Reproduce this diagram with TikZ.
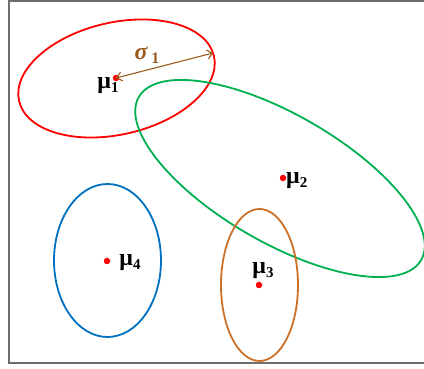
\documentclass[tikz,border=0pt]{standalone}
\usepackage{fontspec}
\newfontfamily\labfont{Liberation Serif}
\usetikzlibrary{arrows.meta}
\definecolor{cred}{RGB}{255,0,0}
\definecolor{cgreen}{RGB}{0,176,80}
\definecolor{cblue}{RGB}{0,112,192}
\definecolor{corange}{RGB}{204,112,40}
\definecolor{cbrown}{RGB}{156,90,30}
\definecolor{cframe}{RGB}{110,110,110}
\newcommand{\mulab}[1]{\bfseries μ\raisebox{-0.3ex}{\fontsize{15}{15}\selectfont #1}}
\tikzset{
  ell/.style={line width=1.8pt},
  dotm/.style={circle,fill=cred,inner sep=0pt,minimum size=6.5pt},
  lab/.style={font=\labfont\fontsize{24}{26}\selectfont,inner sep=0pt},
}
\begin{document}
\begin{tikzpicture}[x=1pt,y=1pt]
\useasboundingbox (0,0) rectangle (424,369);
% frame
\draw[cframe,line width=1.8pt] (430,368) -- (9,368) -- (9,6) -- (430,6);
% ellipses
\draw[ell,cred,rotate around={13:(116.5,290.5)}] (116.5,290.5) ellipse [x radius=100, y radius=56];
\draw[ell,cgreen,rotate around={-30:(280,190.5)}] (280,190.5) ellipse [x radius=163, y radius=64];
\draw[ell,cblue] (107.5,108.5) ellipse [x radius=53.5, y radius=76.5];
\draw[ell,corange] (259.5,84) ellipse [x radius=38.5, y radius=76];
% centres
\node[dotm] (m1) at (116,291) {};
\node[dotm] (m2) at (283,191) {};
\node[dotm] (m3) at (259,84) {};
\node[dotm] (m4) at (107,108) {};
% sigma arrow
\coordinate (s1) at (213,316);
\draw[cbrown,line width=1.1pt,{Straight Barb[length=5pt,width=9pt]}-{Straight Barb[length=5pt,width=9pt]}] (m1.center) -- (s1);
\node[lab,text=cbrown] (sig) at (147,314) {\bfseries\itshape σ\,\raisebox{-0.35ex}{\upshape\fontsize{16}{16}\selectfont 1}};
% labels
\node[lab] (l1) at (108,283) {\mulab{1}};
\node[lab,anchor=west] (l2) at (286,188) {\mulab{2}};
\node[lab] (l3) at (263,98) {\mulab{3}};
\node[lab] (l4) at (130,106) {\mulab{4}};
\end{tikzpicture}
\end{document}
